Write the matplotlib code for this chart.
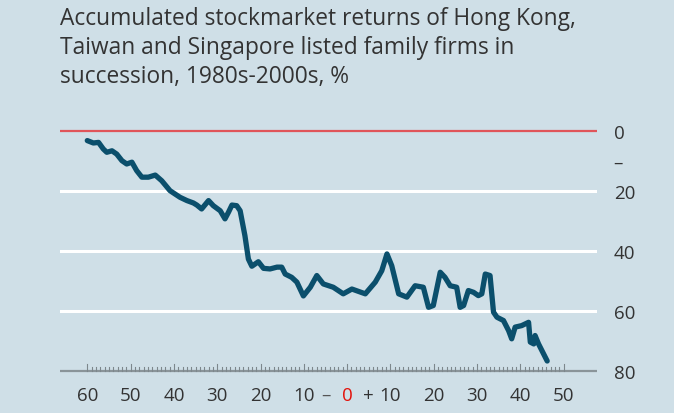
import numpy as np
import matplotlib.pyplot as plt

# months from succession (negative = before), accumulated return %
months = [-60.0, -58.6, -57.4, -56.3, -55.5, -54.3, -53.2, -52.0, -50.9, -49.7,
          -48.6, -47.4, -45.9, -44.3, -42.8, -40.9, -38.6, -37.0, -35.5, -34.7,
          -33.6, -32.0, -30.9, -29.3, -28.2, -27.4, -26.6, -25.5, -24.7, -23.6,
          -22.8, -22.0, -20.5, -19.3, -17.8, -16.2, -15.1, -14.3, -12.8, -11.6,
          -10.1, -8.5, -7.0, -5.5, -3.2, -0.9, 1.1, 4.2, 6.5, 8.0,
          9.2, 10.3, 11.9, 13.8, 15.7, 17.6, 18.8, 19.9, 21.5, 22.6,
          23.8, 25.3, 26.1, 26.9, 28.0, 29.2, 30.3, 31.1, 31.9, 33.0,
          33.8, 34.6, 36.1, 37.3, 38.0, 38.8, 40.3, 41.9, 42.3, 43.1,
          43.4, 44.2, 46.2]
returns = [3.2, 4.0, 3.8, 6.0, 7.1, 6.6, 7.7, 9.9, 11.0, 10.4,
           13.2, 15.4, 15.4, 14.7, 16.6, 19.9, 22.1, 23.2, 24.0, 24.7,
           26.0, 23.2, 24.9, 26.6, 29.3, 27.1, 24.7, 24.9, 26.6, 34.9,
           42.7, 45.1, 43.6, 45.8, 46.0, 45.4, 45.4, 47.7, 48.8, 50.4,
           55.0, 52.1, 48.2, 51.0, 52.1, 54.3, 52.7, 54.3, 50.4, 46.6,
           41.0, 44.9, 54.3, 55.4, 51.6, 52.1, 58.8, 58.2, 47.1, 48.8,
           51.6, 52.1, 58.8, 58.2, 53.2, 53.8, 54.9, 54.3, 47.7, 48.2,
           60.4, 62.1, 63.2, 66.6, 69.3, 65.4, 64.9, 63.8, 70.4, 71.0,
           68.2, 71.0, 76.7]

title = ("Accumulated stockmarket returns of Hong Kong,\n"
         "Taiwan and Singapore listed family firms in\n"
         "succession, 1980s-2000s, %")
x_ticks = list(range(-60, 51, 10))
x_labels = [str(abs(v)) for v in x_ticks]
y_ticks = [0, 10, 20, 40, 60, 80]
y_labels = ["0", "–", "20", "40", "60", "80"]

bg = "#cfdfe7"
plt.rcParams['font.family'] = ['Open Sans', 'DejaVu Sans']

fig = plt.figure(figsize=(6.74, 4.14), dpi=100, facecolor=bg)
ax = fig.add_axes([60 / 674, 1 - 380 / 414, 537 / 674, 260 / 414])
ax.set_facecolor(bg)

ax.set_xlim(-66.3, 57.7)
ax.set_ylim(82.7, -4)

for v in [20, 40, 60]:
    ax.axhline(v, color="white", lw=2.2, zorder=1)
ax.axhline(0, color="#e0555a", lw=1.6, zorder=1)
ax.axhline(80, color="#8a9499", lw=1.6, zorder=2)

ax.plot(months, returns, color="#0b4f6c", lw=3.8, solid_joinstyle="round",
        solid_capstyle="round", zorder=3)

for s in ax.spines.values():
    s.set_visible(False)

# tick marks along the baseline
for t in np.arange(-60, 51, 1):
    h = 2.4 if t % 10 == 0 else 1.4
    ax.plot([t, t], [80, 80 - h], color="#7d878c", lw=0.8, zorder=2)

lab_size = 13.5
ax.set_xticks(x_ticks)
ax.set_xticklabels(x_labels)
ax.tick_params(axis="x", length=0, pad=5, labelsize=lab_size, labelcolor="#333333")
ax.get_xticklabels()[6].set_color("#e3120b")
tr = ax.get_xaxis_transform()
ax.text(-5, -0.06, "–", transform=tr, ha="center", va="center",
        fontsize=lab_size, color="#555555")
ax.text(5, -0.062, "+", transform=tr, ha="center", va="center",
        fontsize=lab_size, color="#333333")

ax.yaxis.tick_right()
ax.set_yticks(y_ticks)
ax.set_yticklabels(y_labels)
ax.tick_params(axis="y", length=0, pad=12, labelsize=lab_size, labelcolor="#333333")

fig.text(60 / 674, 1 - 7 / 414, title, ha="left", va="top", fontsize=16.4,
         color="#333333", linespacing=1.28)

fig.savefig("out.png", dpi=100, facecolor=bg)
